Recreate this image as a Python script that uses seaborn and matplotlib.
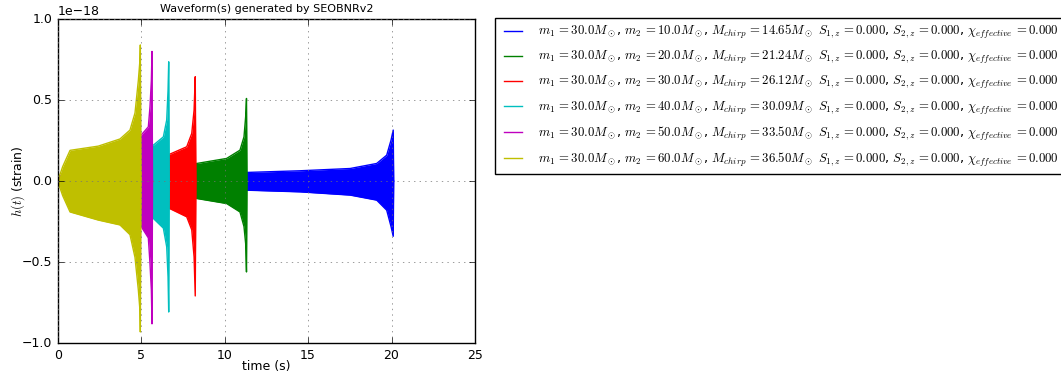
import numpy as np
import pandas as pd
import matplotlib
matplotlib.use("Agg")
import matplotlib.pyplot as plt
import seaborn as sns

plt.style.use("classic")

# binary parameters (solar masses)
m1 = [30.0, 30.0, 30.0, 30.0, 30.0, 30.0]
m2 = [10.0, 20.0, 30.0, 40.0, 50.0, 60.0]
mchirp = [14.65, 21.24, 26.12, 30.09, 33.50, 36.50]
colors = ["b", "g", "r", "c", "m", "y"]

# strain envelopes, units of 1e-18
t_blue = [0.0, 0.7, 11.42, 14.52, 17.52, 19.11, 19.71, 19.97, 20.1, 20.13]
up_blue = [0.0, 0.04, 0.054, 0.064, 0.078, 0.109, 0.16, 0.253, 0.315, 0.0]
lo_blue = [0.0, -0.04, -0.056, -0.066, -0.086, -0.117, -0.179, -0.28, -0.34, 0.0]

t_green = [0.0, 0.7, 8.33, 10.12, 10.92, 11.16, 11.26, 11.31, 11.34]
up_green = [0.0, 0.06, 0.109, 0.14, 0.191, 0.273, 0.397, 0.51, 0.0]
lo_green = [0.0, -0.06, -0.107, -0.138, -0.19, -0.28, -0.385, -0.56, 0.0]

t_red = [0.0, 0.7, 6.73, 7.73, 8.03, 8.17, 8.24, 8.28]
up_red = [0.0, 0.08, 0.167, 0.212, 0.294, 0.438, 0.644, 0.0]
lo_red = [0.0, -0.08, -0.17, -0.22, -0.30, -0.467, -0.708, 0.0]

t_cyan = [0.0, 0.7, 5.73, 6.33, 6.53, 6.61, 6.65, 6.68]
up_cyan = [0.0, 0.10, 0.222, 0.273, 0.377, 0.56, 0.736, 0.0]
lo_cyan = [0.0, -0.10, -0.23, -0.29, -0.405, -0.59, -0.807, 0.0]

t_mag = [0.0, 0.7, 5.0, 5.43, 5.53, 5.61, 5.65, 5.68]
up_mag = [0.0, 0.12, 0.284, 0.335, 0.46, 0.62, 0.80, 0.0]
lo_mag = [0.0, -0.12, -0.28, -0.35, -0.51, -0.67, -0.88, 0.0]

t_yel = [0.0, 0.3, 0.74, 2.43, 3.73, 4.33, 4.63, 4.83, 4.93, 4.95, 4.99]
up_yel = [0.0, 0.09, 0.19, 0.216, 0.26, 0.315, 0.42, 0.62, 0.75, 0.84, 0.0]
lo_yel = [0.0, -0.09, -0.19, -0.24, -0.27, -0.33, -0.47, -0.67, -0.80, -0.93, 0.0]

times = [t_blue, t_green, t_red, t_cyan, t_mag, t_yel]
uppers = [up_blue, up_green, up_red, up_cyan, up_mag, up_yel]
lowers = [lo_blue, lo_green, lo_red, lo_cyan, lo_mag, lo_yel]

fig = plt.figure(figsize=(10.61, 3.79), dpi=100, facecolor="white")
ax = fig.add_axes([57.7 / 1061, 1 - 343.3 / 379, (475 - 57.7) / 1061, (343.3 - 19) / 379])

for i in range(len(m2)):
    lab = (r"$m_1\,{{=}}{:.1f}M_\odot$, $m_2\,{{=}}{:.1f}M_\odot$, $M_{{chirp}}\,{{=}}{:.2f}M_\odot$ "
           r"$S_{{1,z}}\,{{=}}0.000$, $S_{{2,z}}\,{{=}}0.000$, $\chi_{{effective}}\,{{=}}0.000$"
           ).format(m1[i], m2[i], mchirp[i])
    t = np.array(times[i])
    up = np.array(uppers[i]) * 1e-18
    lo = np.array(lowers[i]) * 1e-18
    z = 1 + 0.2 * i  # later (shorter) waveforms sit on top, grid stays above
    sns.lineplot(x=t, y=up, color=colors[i], lw=1, label=lab, ax=ax, zorder=z)
    sns.lineplot(x=t, y=lo, color=colors[i], lw=1, ax=ax, zorder=z)
    ax.fill_between(t, lo, up, color=colors[i], lw=0, zorder=z)

ax.set_xlim(0, 25)
ax.set_ylim(-1e-18, 1e-18)
ax.set_xticks([0, 5, 10, 15, 20, 25])
ax.set_yticks(np.array([-1.0, -0.5, 0.0, 0.5, 1.0]) * 1e-18)
ax.tick_params(labelsize=9)
ax.yaxis.get_offset_text().set_fontsize(9)
ax.grid(True, color="0.45", zorder=3)
ax.set_title("Waveform(s) generated by SEOBNRv2", fontsize=8)
ax.set_xlabel("time (s)", fontsize=9, labelpad=-1)
ax.set_ylabel("$h(t)$ (strain)", fontsize=9, labelpad=-4)

ax.legend(loc="upper left", bbox_to_anchor=(495 / 1061, 1 - 18 / 379),
          bbox_transform=fig.transFigure, borderaxespad=0, fontsize=9.2,
          handlelength=2.0, handletextpad=1.0, labelspacing=0.63)

fig.savefig("out.png", dpi=100, facecolor="white")
